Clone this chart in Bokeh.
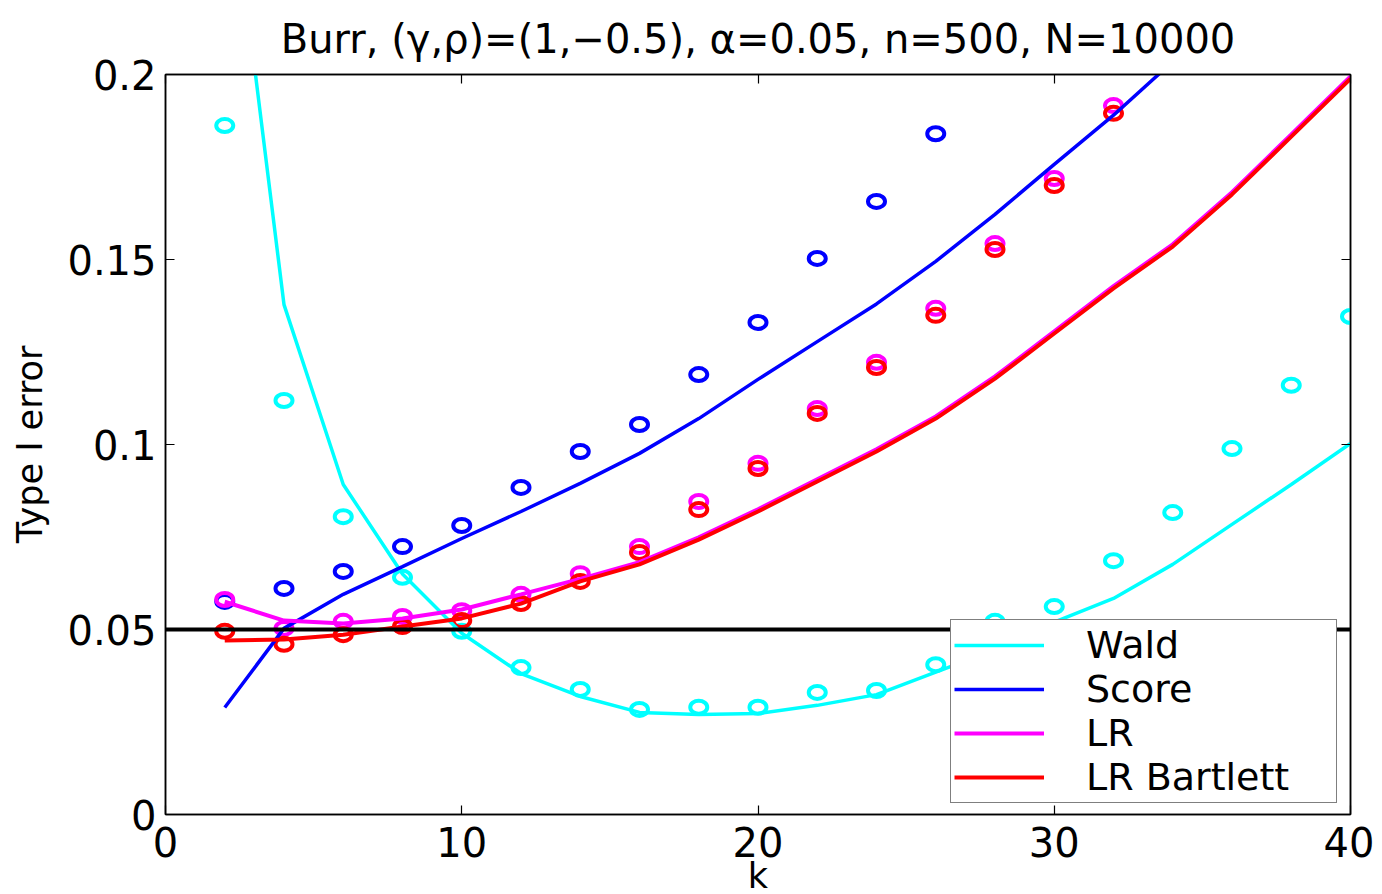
from bokeh.plotting import figure
from bokeh.models import (Range1d, FixedTicker, LinearAxis, Span, Legend, LegendItem,
                          ColumnDataSource)
from bokeh.embed import file_html
from bokeh.resources import INLINE

# ---------------- data ----------------
TITLE = "Burr, (γ,ρ)=(1,−0.5), α=0.05, n=500, N=10000"
ALPHA = 0.05

k_all = [2, 4, 6, 8, 10, 12, 14, 16, 18, 20, 22, 24, 26, 28, 30, 32, 34, 36, 38, 40]

# simulated (circles)
wald_sim = [0.1862, 0.1119, 0.0805, 0.0641, 0.0495, 0.0397, 0.0338, 0.0284, 0.0290, 0.0290,
            0.0330, 0.0335, 0.0405, 0.0522, 0.0562, 0.0686, 0.0816, 0.0989, 0.1160, 0.1346]
k_score_sim = [2, 4, 6, 8, 10, 12, 14, 16, 18, 20, 22, 24, 26]
score_sim = [0.0576, 0.0611, 0.0657, 0.0724, 0.0781, 0.0884, 0.0981, 0.1054, 0.1189, 0.1330,
             0.1503, 0.1657, 0.1840]
k_lr_sim = [2, 4, 6, 8, 10, 12, 14, 16, 18, 20, 22, 24, 26, 28, 30, 32]
lr_sim = [0.0581, 0.0503, 0.0522, 0.0535, 0.0551, 0.0595, 0.0651, 0.0724, 0.0846, 0.0949,
          0.1097, 0.1222, 0.1368, 0.1543, 0.1719, 0.1916]
lrb_sim = [0.0495, 0.0460, 0.0486, 0.0508, 0.0524, 0.0570, 0.0630, 0.0708, 0.0824, 0.0935,
           0.1084, 0.1208, 0.1349, 0.1527, 0.1700, 0.1895]

# asymptotic (lines)
wald_line = [0.2670, 0.1378, 0.0892, 0.0650, 0.0490, 0.0381, 0.0319, 0.0276, 0.0270, 0.0273,
             0.0295, 0.0324, 0.0385, 0.0445, 0.0520, 0.0584, 0.0676, 0.0784, 0.0892, 0.1003]
k_score_line = [2, 4, 6, 8, 10, 12, 14, 16, 18, 20, 22, 24, 26, 28, 30, 32, 34]
score_line = [0.0289, 0.0503, 0.0595, 0.0670, 0.0746, 0.0819, 0.0895, 0.0976, 0.1070, 0.1176,
              0.1278, 0.1380, 0.1495, 0.1622, 0.1757, 0.1890, 0.2035]
lr_line = [0.0575, 0.0524, 0.0516, 0.0530, 0.0554, 0.0595, 0.0637, 0.0682, 0.0749, 0.0825,
           0.0906, 0.0987, 0.1076, 0.1184, 0.1306, 0.1428, 0.1541, 0.1682, 0.1838, 0.1995]
lrb_line = [0.0470, 0.0473, 0.0486, 0.0508, 0.0530, 0.0570, 0.0630, 0.0676, 0.0743, 0.0819,
            0.0900, 0.0981, 0.1070, 0.1178, 0.1300, 0.1422, 0.1535, 0.1676, 0.1832, 0.1989]

x_ticks = [0, 10, 20, 30, 40]
y_ticks = [0, 0.05, 0.1, 0.15, 0.2]
y_tick_labels = ["0", "0.05", "0.1", "0.15", "0.2"]

names = ["Wald", "Score", "LR", "LR Bartlett"]
colors = ["#00FFFF", "#0000FF", "#FF00FF", "#FF0000"]

# ---------------- figure ----------------
FONT = "DejaVu Sans"
p = figure(frame_width=1185, frame_height=740,
           x_range=Range1d(0, 40), y_range=Range1d(0, 0.2),
           output_backend="svg", toolbar_location=None,
           min_border_left=165, min_border_top=73, min_border_right=24, min_border_bottom=81)
p.background_fill_color = "white"
p.border_fill_color = "white"
p.grid.visible = False
p.outline_line_color = "black"
p.outline_line_width = 1.5

p.title.text = TITLE
p.title.text_font = FONT
p.title.text_font_size = "40px"
p.title.text_font_style = "normal"
p.title.align = "center"
p.title.text_color = "black"
p.title.standoff = 26

def style_axis(ax, labels=True):
    ax.major_tick_in = 9
    ax.major_tick_out = 0
    ax.minor_tick_line_color = None
    ax.axis_line_color = "black"
    ax.axis_line_width = 1.5
    ax.major_tick_line_color = "black"
    ax.major_tick_line_width = 1.2
    ax.major_label_text_font = FONT
    ax.axis_label_text_font = FONT
    ax.axis_label_text_font_size = "35px"
    ax.axis_label_text_font_style = "normal"
    ax.axis_label_text_color = "black"
    if labels:
        ax.major_label_text_font_size = "40px"
        ax.major_label_text_color = "black"
    else:
        ax.major_label_text_font_size = "1px"
        ax.major_label_text_color = None
        ax.major_label_text_alpha = 0
        ax.major_label_standoff = 0

xa = p.xaxis[0]
ya = p.yaxis[0]
xa.ticker = FixedTicker(ticks=x_ticks)
ya.ticker = FixedTicker(ticks=y_ticks)
ya.major_label_overrides = {t: s for t, s in zip(y_ticks, y_tick_labels)}
style_axis(xa)
style_axis(ya)
xa.axis_label = "k"
ya.axis_label = "Type I error"
xa.major_label_standoff = 12
xa.axis_label_standoff = -4
ya.major_label_standoff = 9
ya.axis_label_standoff = 14

ax_top = LinearAxis(ticker=FixedTicker(ticks=x_ticks))
ax_right = LinearAxis(ticker=FixedTicker(ticks=y_ticks))
for a in (ax_top, ax_right):
    style_axis(a, labels=False)
p.add_layout(ax_top, "above")
p.add_layout(ax_right, "right")

# ---------------- glyphs ----------------
sims = [(k_all, wald_sim), (k_score_sim, score_sim), (k_lr_sim, lr_sim), (k_lr_sim, lrb_sim)]
lines = [(k_all, wald_line), (k_score_line, score_line), (k_all, lr_line), (k_all, lrb_line)]
widths = [3.5, 3.5, 4, 4]

for (kx, vy), c in zip(sims, colors):
    src = ColumnDataSource(dict(k=kx, v=vy))
    p.ellipse(x="k", y="v", width=17, height=13, width_units="screen", height_units="screen",
              fill_color=None, line_color=c, line_width=4, source=src)

line_renderers = []
for (kx, vy), c, w in zip(lines, colors, widths):
    src = ColumnDataSource(dict(k=kx, v=vy))
    r = p.line(x="k", y="v", line_color=c, line_width=w, source=src)
    line_renderers.append(r)

span = Span(location=ALPHA, dimension="width", line_color="black", line_width=4)
p.add_layout(span)

legend = Legend(items=[LegendItem(label=n, renderers=[r]) for n, r in zip(names, line_renderers)],
                location=(785, 11))
legend.label_text_font = FONT
legend.label_text_font_size = "38px"
legend.label_text_color = "black"
legend.glyph_width = 90
legend.glyph_height = 42
legend.label_height = 42
legend.label_width = 247
legend.label_standoff = 42
legend.padding = 3
legend.spacing = 0
legend.margin = 0
legend.border_line_color = "black"
legend.border_line_width = 1.5
legend.background_fill_color = "white"
legend.background_fill_alpha = 1.0
p.add_layout(legend, "center")

open("out.html", "w").write(file_html(p, INLINE))
